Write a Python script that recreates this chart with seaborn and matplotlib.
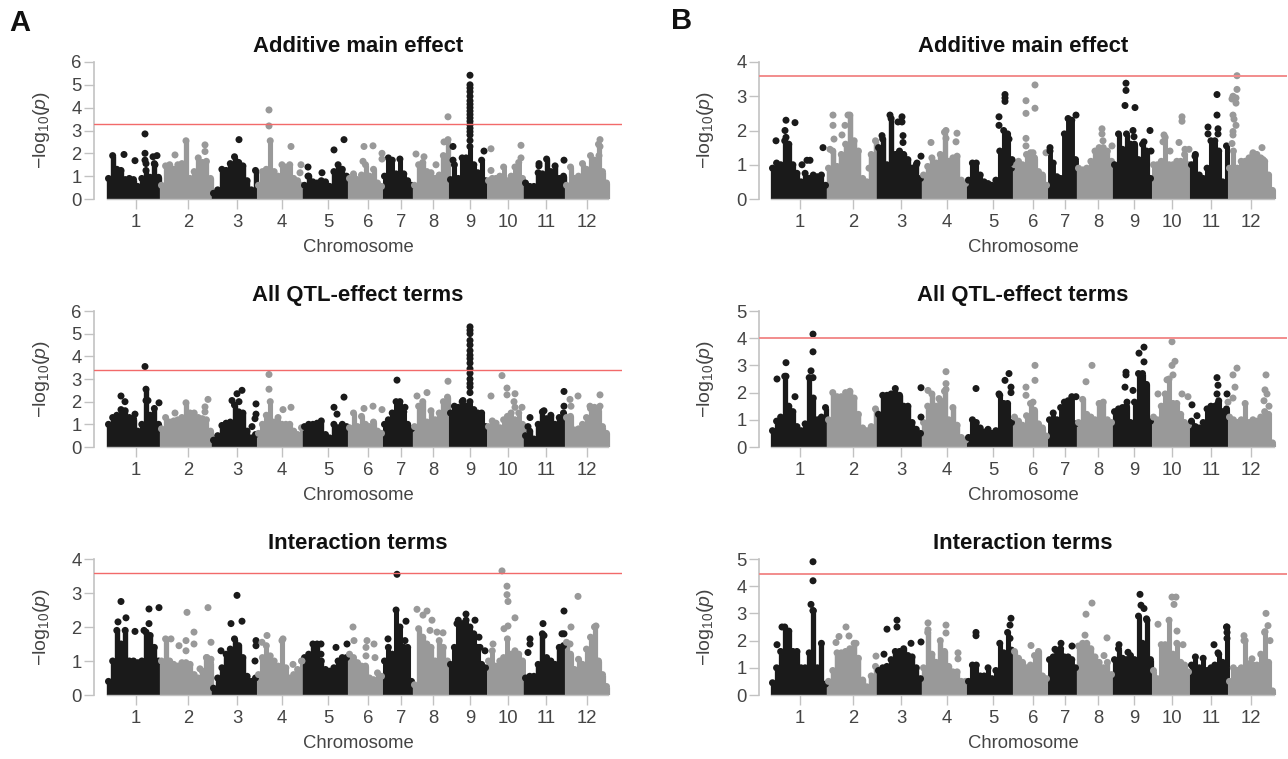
#!/usr/bin/env python3

import numpy as np
import pandas as pd
import matplotlib
matplotlib.use('Agg')
import matplotlib.pyplot as plt
import seaborn as sns

chrom_labels = ['1', '2', '3', '4', '5', '6', '7', '8', '9', '10', '11', '12']
titles = ['Additive main effect', 'All QTL-effect terms', 'Interaction terms']

# genome scale of each column, chromosome edges and tick positions
a_edges = [107, 160, 212, 257, 303, 348, 383, 413, 449, 487, 524, 565, 608]
a_ticks = [136, 188, 237, 282, 328, 368, 401, 433, 470, 508, 546, 587]
b_edges = [771, 827, 877, 922, 967, 1013, 1048, 1077, 1113, 1152, 1190, 1228, 1274]
b_ticks = [800, 853, 901, 947, 993, 1033, 1065, 1098, 1134, 1172, 1211, 1251]

thresholds_a = [3.3, 3.4, 3.6]
thresholds_b = [3.6, 4.0, 4.45]
ymax_a = [6, 6, 4]
ymax_b = [4, 5, 5]

# height of the dense part of each chromosome, read left to right
a1_body = [
    [0.9, 1.9, 1.3, 1.25, 0.85, 0.9, 0.85, 0.55, 0.9, 1.25, 0.95, 1.55, 0.95],
    [0.6, 1.45, 1.5, 1.3, 1.5, 1.55, 2.55, 0.9, 1.2, 1.8, 1.6, 1.65, 0.9],
    [0.25, 0.4, 1.3, 1.25, 1.55, 1.85, 1.6, 1.45, 0.8, 0.4, 1.25],
    [0.6, 1.2, 1.3, 2.55, 1.2, 1.0, 1.5, 1.4, 1.5, 0.9, 0.8, 0.6],
    [0.6, 1.0, 0.75, 0.7, 0.8, 0.75, 0.55, 1.2, 1.5, 1.3, 1.0],
    [0.9, 1.1, 0.85, 1.05, 1.5, 1.0, 1.3, 0.7, 0.55],
    [1.0, 1.8, 1.7, 1.1, 1.75, 1.1, 0.8, 0.6],
    [0.6, 1.5, 1.6, 1.2, 1.15, 0.9, 1.05, 1.9, 2.5],
    [0.85, 1.5, 0.9, 1.8, 1.8, 2.3, 1.5, 1.15, 1.7, 0.8],
    [0.8, 0.9, 0.9, 1.0, 1.4, 0.8, 1.0, 1.4, 1.6, 0.9],
    [0.7, 0.55, 0.55, 1.15, 1.1, 1.75, 1.2, 1.45, 0.9, 1.0],
    [0.6, 1.4, 0.9, 1.0, 1.55, 1.3, 1.9, 1.7, 2.4, 1.2, 0.7],
]
a2_body = [
    [1.0, 1.3, 1.4, 1.65, 1.6, 1.3, 1.25, 0.7, 1.0, 2.55, 1.4, 1.7, 1.0],
    [0.8, 1.3, 1.1, 1.15, 1.2, 1.3, 1.95, 1.5, 1.5, 1.3, 1.25, 1.2, 0.7],
    [0.3, 0.5, 0.95, 1.05, 1.1, 1.85, 1.55, 1.5, 0.7, 0.4, 0.55],
    [0.6, 1.0, 1.4, 2.0, 1.1, 1.3, 1.0, 1.0, 1.0, 0.7, 0.55, 0.85],
    [0.9, 1.0, 1.0, 1.05, 1.15, 0.55, 0.4, 1.0, 0.85, 1.0, 0.9],
    [0.85, 1.5, 0.9, 1.35, 1.0, 0.9, 1.1, 0.7, 0.6],
    [1.0, 1.2, 1.5, 2.0, 2.0, 1.55, 1.0, 0.8],
    [0.9, 1.8, 2.0, 1.1, 1.6, 1.2, 1.5, 2.0, 2.2],
    [1.5, 1.8, 1.75, 2.0, 1.8, 2.0, 1.65, 1.5, 1.5, 0.9],
    [0.9, 1.15, 1.05, 0.85, 1.2, 1.35, 1.5, 1.2, 1.5, 1.0],
    [0.5, 0.7, 0.35, 1.0, 1.55, 1.25, 1.4, 1.0, 1.3, 1.5],
    [1.3, 1.35, 0.75, 0.8, 1.0, 1.3, 1.7, 1.75, 1.65, 0.9, 0.6],
]
a3_body = [
    [0.4, 1.0, 1.9, 1.5, 1.9, 1.0, 1.0, 0.95, 1.0, 1.85, 1.75, 1.4, 1.0],
    [1.0, 1.65, 1.0, 0.9, 0.85, 0.95, 0.95, 0.9, 0.6, 0.5, 0.7, 1.1, 0.95],
    [0.2, 0.5, 0.8, 1.2, 1.35, 1.65, 1.45, 1.1, 0.55, 0.4, 0.5],
    [0.6, 1.1, 1.45, 1.15, 1.0, 0.85, 1.6, 0.8, 0.5, 0.6, 0.75, 1.0],
    [1.1, 1.2, 1.5, 1.5, 1.0, 0.75, 0.7, 0.8, 1.0, 1.1, 1.1],
    [1.2, 1.1, 0.95, 0.85, 0.85, 0.5, 0.45, 0.65, 0.55],
    [1.0, 1.4, 1.2, 2.5, 2.0, 1.4, 1.4, 0.4],
    [0.3, 1.95, 1.7, 1.5, 1.4, 1.0, 1.6, 1.4, 1.0],
    [0.9, 1.4, 2.2, 2.1, 2.2, 2.0, 1.8, 1.4, 0.9, 0.8],
    [1.0, 1.3, 0.85, 1.0, 1.1, 1.65, 1.2, 1.3, 1.2, 1.0],
    [0.5, 0.55, 0.55, 0.9, 1.8, 1.1, 1.0, 0.9, 1.4, 1.45],
    [1.55, 1.2, 0.75, 1.05, 0.9, 1.35, 1.7, 2.0, 1.0, 0.6, 0.25],
]
b1_body = [
    [0.9, 1.05, 1.0, 1.7, 1.6, 1.0, 0.75, 0.5, 0.75, 0.6, 0.7, 0.65, 0.7, 0.4],
    [0.9, 1.4, 0.95, 1.3, 1.6, 2.45, 1.7, 1.4, 0.6, 0.5, 1.3, 1.7],
    [1.5, 1.75, 1.0, 2.35, 1.3, 1.4, 1.3, 1.15, 0.9, 1.0, 0.6],
    [0.7, 0.95, 1.2, 1.05, 1.3, 1.95, 1.1, 1.2, 1.25, 0.55, 0.45],
    [0.55, 1.05, 1.05, 0.7, 0.5, 0.45, 0.4, 0.55, 1.4, 2.0, 1.9, 0.9],
    [1.0, 1.1, 1.0, 1.3, 1.35, 1.2, 0.8, 0.7, 0.4],
    [1.4, 1.05, 0.65, 0.6, 1.9, 2.35, 2.3, 1.15],
    [0.9, 0.85, 0.9, 1.1, 1.4, 1.5, 1.5, 1.4, 1.1],
    [1.0, 1.9, 1.45, 1.9, 1.6, 1.6, 1.15, 1.6, 1.4, 0.6],
    [1.0, 1.0, 1.1, 1.8, 1.0, 1.0, 1.1, 1.1, 1.3, 1.0],
    [1.0, 1.3, 0.7, 0.6, 0.9, 1.7, 1.7, 1.4, 0.5, 1.55],
    [0.9, 1.4, 0.9, 1.1, 1.1, 1.2, 1.3, 1.3, 1.2, 1.1, 0.7, 0.25],
]
b2_body = [
    [0.6, 0.95, 1.1, 2.6, 1.5, 1.3, 0.75, 0.6, 0.85, 2.55, 1.8, 1.0, 1.1, 1.45],
    [1.0, 2.0, 1.85, 1.85, 2.0, 2.05, 1.8, 1.2, 0.7, 0.6, 0.75, 1.4],
    [1.2, 1.9, 1.9, 1.95, 2.15, 1.9, 1.5, 1.5, 0.9, 0.65, 0.5],
    [0.9, 1.5, 1.95, 1.5, 1.7, 2.05, 1.0, 1.45, 0.8, 0.35, 0.25],
    [0.35, 1.0, 0.9, 0.7, 0.55, 0.65, 0.5, 0.6, 1.9, 1.6, 1.6, 0.9],
    [1.1, 0.95, 0.8, 1.15, 1.6, 1.35, 0.85, 0.7, 0.4],
    [1.0, 1.25, 1.0, 1.45, 1.65, 1.7, 1.85, 0.85],
    [0.9, 1.75, 1.2, 1.1, 1.0, 1.6, 1.65, 1.0, 0.9],
    [1.3, 1.4, 1.45, 1.5, 0.9, 1.65, 2.7, 2.7, 2.3, 0.95],
    [1.1, 1.0, 1.5, 1.95, 2.5, 1.6, 1.6, 1.2, 0.9, 0.8],
    [0.95, 0.75, 0.7, 0.9, 1.4, 1.5, 1.5, 1.7, 1.3, 1.4],
    [1.1, 1.0, 0.9, 1.0, 1.6, 0.9, 1.0, 0.95, 1.1, 1.3, 1.2, 0.15],
]
b3_body = [
    [0.45, 1.0, 1.6, 2.5, 2.35, 1.6, 1.6, 1.0, 1.0, 1.55, 3.1, 1.0, 1.9, 0.4],
    [0.5, 0.9, 1.55, 1.55, 1.6, 1.7, 1.9, 1.35, 0.55, 0.3, 0.7, 1.05],
    [0.9, 1.0, 1.05, 1.3, 1.6, 1.6, 1.7, 1.45, 1.4, 1.0, 0.6],
    [1.0, 2.3, 1.5, 1.2, 2.0, 1.6, 1.05, 0.85, 0.85, 0.5, 0.5],
    [0.5, 1.1, 1.1, 0.7, 0.7, 1.0, 0.6, 0.9, 1.9, 1.55, 2.3, 1.65],
    [1.6, 1.35, 1.2, 1.0, 1.1, 1.45, 1.6, 0.7, 0.6],
    [1.3, 1.4, 1.6, 1.7, 1.4, 1.4, 1.3, 1.0],
    [1.8, 1.9, 1.9, 1.7, 1.4, 1.2, 1.0, 1.2, 0.75],
    [1.3, 1.7, 1.35, 1.3, 1.45, 1.3, 2.9, 1.9, 2.8, 1.3],
    [0.9, 0.6, 1.85, 1.85, 2.75, 1.5, 1.9, 1.2, 1.1, 0.85],
    [1.1, 1.4, 1.0, 1.35, 0.9, 1.0, 1.1, 1.5, 1.2, 2.5],
    [0.5, 1.0, 0.9, 1.0, 2.0, 1.15, 1.1, 1.1, 1.5, 2.3, 1.2, 0.15],
]

# isolated markers above the dense part
a1_pos = [124, 135, 145, 157, 153, 145, 146, 145, 155, 175, 205, 205, 239, 269, 269, 291, 301, 300,
          308, 308, 322, 334, 344, 364, 373, 363, 382, 382, 416, 424, 436, 444, 448, 448, 453, 484, 453,
          470, 470, 470, 470, 470, 470, 470, 470, 470, 470, 470, 470, 470, 470, 470, 470, 470,
          491, 491, 521, 521, 539, 564, 539, 600, 600, 599]
a1_logp = [1.95, 1.68, 2.85, 1.9, 1.85, 2.0, 1.55, 1.7, 1.5, 1.93, 2.37, 2.08, 2.6, 3.9, 3.2, 2.3, 1.5, 1.15,
           1.4, 1.0, 1.15, 2.15, 2.6, 2.3, 2.33, 1.65, 2.0, 1.75, 1.97, 1.85, 1.5, 2.5, 3.6, 2.6, 2.3, 2.1, 1.7,
           5.42, 5.0, 4.86, 4.7, 4.5, 4.3, 4.15, 4.0, 3.85, 3.7, 3.55, 3.4, 3.25, 3.1, 2.95, 2.8, 2.56,
           2.2, 1.25, 2.35, 1.8, 1.55, 1.7, 1.45, 2.6, 2.3, 1.9]
a2_pos = [121, 125, 135, 145, 159, 146, 148, 175, 208, 205, 205, 232, 237, 242, 239, 256, 256, 255, 252,
          269, 269, 283, 291, 334, 344, 337, 364, 373, 382, 397, 405, 417, 427, 448,
          470, 470, 470, 470, 470, 470, 470, 470, 470, 470, 470, 470, 470, 470, 470, 463,
          491, 502, 507, 507, 515, 514, 522, 515, 530, 528, 564, 564, 544, 570, 578, 600, 571, 600, 590]
a2_logp = [2.25, 2.0, 1.45, 3.55, 1.95, 2.05, 2.05, 1.5, 2.1, 1.77, 1.55, 2.05, 2.35, 2.5, 2.0, 1.9, 1.45, 1.25, 0.9,
           3.2, 2.55, 1.65, 1.75, 1.75, 2.2, 1.45, 1.7, 1.8, 1.65, 2.95, 1.75, 2.25, 2.4, 2.9,
           5.3, 5.15, 5.0, 4.7, 4.5, 4.25, 4.05, 3.9, 3.7, 3.45, 3.25, 3.0, 2.8, 2.65, 2.4, 2.05,
           2.25, 3.15, 2.6, 2.3, 2.35, 2.0, 1.75, 1.75, 1.3, 0.9, 2.45, 1.8, 1.6, 2.1, 2.25, 2.3, 1.8, 1.8, 1.8]
a3_pos = [121, 118, 126, 135, 149, 159, 149, 144, 171, 187, 208, 194, 194, 186, 179, 186, 211, 200, 207, 211,
          237, 231, 242, 256, 256, 255, 221, 267, 262, 283, 293, 302, 321, 321, 336, 347,
          353, 354, 367, 366, 374, 366, 375, 397, 406, 388, 405, 417, 423, 427, 432, 430, 437, 443,
          466, 457, 475, 479, 480, 485, 502, 507, 507, 508, 515, 508, 504, 493,
          530, 530, 528, 543, 564, 562, 564, 544, 578, 571, 596, 570]
a3_logp = [2.75, 2.15, 2.27, 1.87, 2.53, 2.57, 2.1, 1.9, 1.65, 2.43, 2.57, 1.85, 1.5, 1.6, 1.45, 1.3, 1.55, 0.77, 1.1, 1.05,
           2.93, 2.1, 2.17, 1.6, 1.45, 1.0, 1.3, 1.75, 1.55, 1.65, 0.9, 1.0, 1.5, 1.2, 1.4, 1.5,
           2.0, 1.6, 1.6, 1.4, 1.5, 1.15, 1.1, 3.55, 2.17, 1.65, 1.6, 2.52, 2.35, 2.47, 2.2, 1.9, 1.85, 1.83,
           2.38, 2.1, 2.2, 1.7, 1.4, 1.3, 3.65, 3.2, 2.95, 2.75, 2.27, 2.03, 1.95, 1.5,
           1.65, 1.5, 1.25, 2.1, 2.47, 1.8, 1.8, 1.75, 2.9, 2.0, 2.03, 1.5]
b1_pos = [786, 785, 795, 776, 802, 807, 810, 823, 786, 833, 833, 848, 845, 842, 834, 830, 869,
          890, 898, 902, 902, 903, 903, 921, 882, 917, 931, 946, 946, 957, 956,
          1005, 1005, 1005, 999, 999, 1012, 1009, 1010, 1035, 1026, 1035, 1026, 1026, 1026, 1033, 1046,
          1050, 1050, 1076, 1070, 1102, 1102, 1103, 1112, 1126, 1126, 1125, 1135, 1133, 1134, 1150, 1144, 1151,
          1164, 1163, 1179, 1182, 1182, 1185, 1189, 1170, 1217, 1217, 1208, 1208, 1218, 1218, 1195,
          1237, 1237, 1233, 1236, 1232, 1236, 1233, 1234, 1236, 1233, 1233, 1232, 1262, 1263, 1253]
b1_logp = [2.3, 2.0, 2.23, 1.7, 1.0, 1.13, 1.13, 1.5, 1.8, 2.45, 2.15, 2.45, 2.15, 1.87, 1.75, 1.45, 0.9,
           2.45, 2.25, 2.4, 2.25, 1.85, 1.65, 1.25, 1.85, 1.05, 1.65, 2.0, 1.77, 1.92, 1.67,
           3.05, 2.95, 2.85, 2.4, 2.15, 1.15, 1.75, 1.05, 3.33, 2.87, 2.65, 2.5, 1.77, 1.55, 1.35, 1.35,
           1.5, 1.4, 2.45, 2.25, 2.05, 1.9, 1.7, 1.55, 3.38, 3.17, 2.73, 2.67, 2.0, 1.82, 2.0, 1.67, 1.4,
           1.87, 1.67, 1.65, 2.4, 2.27, 1.45, 1.45, 1.4, 3.05, 2.45, 2.1, 1.9, 2.05, 1.9, 1.25,
           3.6, 3.2, 3.0, 2.95, 2.92, 2.8, 2.45, 2.33, 2.15, 1.97, 1.87, 1.62, 1.5, 1.15, 1.35]
b2_pos = [786, 777, 786, 795, 813, 813, 811, 813, 921, 921, 946, 946, 946, 928, 939,
          976, 999, 1009, 1005, 1011, 1011, 1035, 1035, 1026, 1026, 1033, 1076, 1092, 1086,
          1144, 1139, 1144, 1126, 1126, 1125, 1133, 1127, 1172, 1175, 1172, 1167, 1173, 1158, 1188, 1182,
          1217, 1218, 1217, 1218, 1192, 1197, 1227, 1228, 1237, 1233, 1235, 1233, 1266, 1265, 1267, 1264, 1269]
b2_logp = [3.1, 2.5, 2.6, 1.85, 4.15, 3.5, 2.8, 2.55, 2.18, 1.1, 2.77, 2.33, 2.12, 2.08, 1.78,
           2.15, 1.95, 2.7, 2.45, 2.2, 2.0, 3.0, 2.45, 2.2, 1.9, 1.65, 1.85, 3.0, 2.4,
           3.67, 3.45, 3.13, 2.75, 2.65, 2.2, 2.08, 1.65, 3.87, 3.15, 3.0, 2.47, 2.65, 1.95, 1.85, 1.95,
           2.55, 2.27, 1.95, 1.6, 1.55, 1.15, 1.95, 1.65, 2.9, 2.65, 2.2, 1.8, 2.65, 2.1, 1.95, 1.7, 1.5]
b3_pos = [777, 813, 813, 811, 813, 782, 846, 839, 849, 836, 876, 856, 887, 897, 897, 921, 911, 884,
          928, 928, 946, 946, 958, 958, 976, 976, 1011, 1010, 1010, 1031, 1061, 1055, 1072,
          1092, 1086, 1085, 1107, 1104, 1140, 1141, 1144, 1128, 1119, 1147,
          1158, 1172, 1176, 1174, 1177, 1183, 1214, 1227, 1227, 1227, 1218,
          1244, 1244, 1266, 1268, 1265, 1270, 1252]
b3_logp = [1.85, 4.9, 4.2, 3.33, 3.1, 2.5, 2.5, 2.15, 2.17, 1.93, 1.43, 1.9, 2.42, 2.75, 2.5, 1.95, 1.9, 1.5,
           2.65, 2.4, 2.57, 2.28, 1.55, 1.33, 2.3, 2.18, 2.82, 2.57, 2.08, 1.82, 1.9, 1.68, 1.8,
           3.38, 2.97, 2.2, 2.1, 1.45, 3.7, 3.3, 3.18, 1.57, 1.85, 2.75,
           2.6, 3.6, 3.6, 3.33, 2.35, 1.85, 1.85, 2.5, 2.3, 2.08, 1.55,
           2.18, 2.0, 3.0, 2.55, 2.33, 2.0, 1.33]

BLACK = '#1a1a1a'
GREY = '#999999'
AXIS = '#c2c2c2'
TEXT = '#444444'
W, H = 1288, 759
MARKER_PX = 7.0


def make_points(body, edges, pos, logp):
    """Table of tops and isolated markers, with odd/even chromosome as shade."""
    rows = []
    stems = []
    for i, heights in enumerate(body):
        xs = np.linspace(edges[i] + 1.5, edges[i + 1] - 1.5, len(heights))
        stems.append((xs, heights, BLACK if i % 2 == 0 else GREY))
        rows += [(x, h, 'odd' if i % 2 == 0 else 'even') for x, h in zip(xs, heights)]
    for x, y in zip(pos, logp):
        i = min(np.searchsorted(edges, x, side='right') - 1, 11)
        rows.append((x, y, 'odd' if i % 2 == 0 else 'even'))
    return pd.DataFrame(rows, columns=['pos', 'logp', 'shade']), stems


def draw_panel(left, right, top, bottom, edges, ticks, body, pos, logp, ymax, thr, title, red, red_lw):
    ax = fig.add_axes([left / W, 1 - bottom / H, (right - left) / W, (bottom - top) / H])
    df, stems = make_points(body, edges, pos, logp)
    for xs, heights, col in stems:
        step = xs[1] - xs[0]
        ax.vlines(xs, 0, heights, colors=col, linewidth=(step + 1.2) * 0.72, capstyle='butt', zorder=2)
    sns.scatterplot(data=df, x='pos', y='logp', hue='shade', palette={'odd': BLACK, 'even': GREY},
                    s=(MARKER_PX * 0.72) ** 2, linewidth=0, legend=False, clip_on=False, zorder=3, ax=ax)
    ax.axhline(thr, color=red, linewidth=red_lw, zorder=4)
    ax.set_xlim(left, right)
    ax.set_ylim(0, ymax)
    ax.set_xticks(ticks)
    ax.set_xticklabels(chrom_labels)
    ax.set_yticks(range(ymax + 1))
    ax.tick_params(axis='both', length=7.5, width=1.0, color=AXIS, labelcolor=TEXT, labelsize=13.3,
                   bottom=True, left=True)
    ax.tick_params(axis='x', pad=3)
    ax.tick_params(axis='y', pad=1.5)
    sns.despine(ax=ax)
    ax.spines['left'].set_color(AXIS)
    ax.spines['left'].set_linewidth(1.2)
    ax.spines['bottom'].set_color(AXIS)
    ax.spines['bottom'].set_linewidth(1.0)
    ax.spines['bottom'].set_bounds(edges[0], edges[-1])
    ax.set_title(title, fontsize=15.9, fontweight='bold', color='#111111', pad=7)
    ax.set_xlabel('Chromosome', fontsize=13.3, color=TEXT, labelpad=6)
    ax.set_ylabel('')
    fig.text((left - 53) / W, 1 - (top + bottom + 0) / 2 / H, r'$-\mathrm{log}_{10}(\mathit{p})$',
             rotation=90, ha='center', va='center', fontsize=14, color=TEXT)
    return ax


sns.set_theme(style='white')
plt.rcParams['font.family'] = ['Liberation Sans', 'DejaVu Sans']
plt.rcParams['mathtext.fontset'] = 'custom'
plt.rcParams['mathtext.rm'] = 'Liberation Sans'
plt.rcParams['mathtext.it'] = 'Liberation Sans:italic'
plt.rcParams['mathtext.default'] = 'regular'

fig = plt.figure(figsize=(W / 100, H / 100), dpi=100, facecolor='white')

row_top = [62, 311, 559]
row_bottom = [199, 447, 695]
a_body = [a1_body, a2_body, a3_body]
a_pos = [a1_pos, a2_pos, a3_pos]
a_logp = [a1_logp, a2_logp, a3_logp]
b_body = [b1_body, b2_body, b3_body]
b_pos = [b1_pos, b2_pos, b3_pos]
b_logp = [b1_logp, b2_logp, b3_logp]

for r in range(3):
    draw_panel(94, 622, row_top[r], row_bottom[r], a_edges, a_ticks, a_body[r], a_pos[r], a_logp[r],
               ymax_a[r], thresholds_a[r], titles[r], '#f26a6a', 1.0)
    draw_panel(759, 1287, row_top[r], row_bottom[r], b_edges, b_ticks, b_body[r], b_pos[r], b_logp[r],
               ymax_b[r], thresholds_b[r], titles[r], '#f28c8c', 1.4)

fig.text(20 / W, 1 - 23 / H, 'A', fontsize=21, fontweight='bold', color='#111111', ha='center', va='center')
fig.text(682 / W, 1 - 21 / H, 'B', fontsize=21, fontweight='bold', color='#111111', ha='center', va='center')

fig.savefig('out.png', dpi=100)
plt.close(fig)
